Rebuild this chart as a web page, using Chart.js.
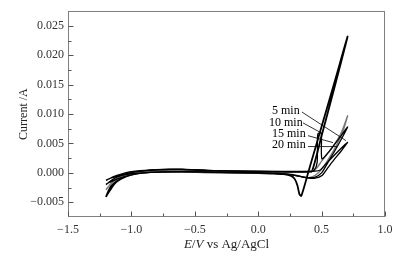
<!DOCTYPE html>
<html>
<head>
<meta charset="utf-8">
<script src="https://cdn.jsdelivr.net/npm/chart.js@4/dist/chart.umd.min.js"></script>
<style>
html, body { margin: 0; padding: 0; background: #fff; }
</style>
</head>
<body>
<canvas id="cv" width="399" height="257"></canvas>
<script>
// axis ticks
var xTicks = [-1.5, -1.0, -0.5, 0.0, 0.5, 1.0];
var yTicks = [-0.005, 0.000, 0.005, 0.010, 0.015, 0.020, 0.025];

// curve 1 (tallest, black)
var c1E = [-1.2, -1.18, -1.15, -1.1, -1.05, -1.0, -0.9, -0.8, -0.7, -0.6, -0.5, -0.3, -0.1, 0.1, 0.3, 0.4, 0.425, 0.5, 0.6, 0.705,
           0.6, 0.5, 0.4, 0.34, 0.325, 0.31, 0.29, 0.26, 0.2, 0.1, -0.1, -0.4, -0.7, -0.9, -1.0, -1.08, -1.13, -1.17, -1.2];
var c1I = [-0.0041, -0.0030, -0.0019, -0.0009, -0.0003, 0.0000, 0.0003, 0.0005, 0.0006, 0.0006, 0.0005, 0.0003, 0.0002, 0.0002, 0.0002, 0.0002, 0.0003, 0.0063, 0.0144, 0.0232,
           0.0153, 0.0079, 0.0005, -0.0039, -0.0036, -0.0022, -0.0011, -0.0005, -0.0002, -0.0001, 0.0000, 0.0001, 0.0002, 0.0001, -0.0003, -0.0010, -0.0018, -0.0030, -0.0040];

// curve 2 (grey)
var c2E = [-1.2, -1.17, -1.12, -1.05, -0.95, -0.8, -0.65, -0.5, -0.2, 0.1, 0.3, 0.42, 0.46, 0.5, 0.55, 0.6, 0.65, 0.68, 0.705,
           0.66, 0.6, 0.55, 0.5, 0.45, 0.4, 0.35, 0.3, 0.2, 0.0, -0.3, -0.6, -0.85, -0.98, -1.06, -1.12, -1.17, -1.2];
var c2I = [-0.0029, -0.0020, -0.0011, -0.0004, 0.0001, 0.0004, 0.0005, 0.0004, 0.0003, 0.0002, 0.0002, 0.0003, 0.0008, 0.0020, 0.0034, 0.0048, 0.0066, 0.0082, 0.0097,
           0.0066, 0.0040, 0.0022, 0.0006, -0.0004, -0.0008, -0.0007, -0.0004, -0.0001, 0.0000, 0.0001, 0.0002, 0.0001, -0.0002, -0.0006, -0.0012, -0.0021, -0.0028];

// curve 3 (black, with the jump near 0.47 V)
var c3E = [-1.2, -1.16, -1.1, -1.03, -0.95, -0.8, -0.6, -0.4, -0.1, 0.2, 0.4, 0.44, 0.465, 0.47, 0.497, 0.502, 0.55, 0.6, 0.65, 0.705,
           0.65, 0.6, 0.55, 0.5, 0.45, 0.4, 0.33, 0.25, 0.15, 0.0, -0.3, -0.6, -0.85, -0.97, -1.05, -1.12, -1.2];
var c3I = [-0.0020, -0.0013, -0.0006, -0.0001, 0.0002, 0.0005, 0.0006, 0.0004, 0.0003, 0.0002, 0.0002, 0.0004, 0.0018, 0.0066, 0.0068, 0.0024, 0.0034, 0.0048, 0.0062, 0.0078,
           0.0055, 0.0036, 0.0018, 0.0000, -0.0007, -0.0008, -0.0006, -0.0003, -0.0001, 0.0000, 0.0001, 0.0002, 0.0001, -0.0002, -0.0006, -0.0011, -0.0019];

// curve 4 (black, lowest at 0.7 V)
var c4E = [-1.2, -1.15, -1.08, -1.0, -0.85, -0.7, -0.5, -0.2, 0.1, 0.3, 0.45, 0.49, 0.52, 0.6, 0.65, 0.705,
           0.65, 0.6, 0.55, 0.5, 0.45, 0.4, 0.33, 0.25, 0.15, 0.0, -0.3, -0.6, -0.85, -0.98, -1.08, -1.15, -1.2];
var c4I = [-0.0013, -0.0007, -0.0002, 0.0002, 0.0005, 0.0006, 0.0005, 0.0003, 0.0002, 0.0002, 0.0003, 0.0005, 0.0012, 0.0030, 0.0041, 0.0052,
           0.0036, 0.0023, 0.0009, -0.0005, -0.0009, -0.0009, -0.0006, -0.0003, -0.0001, 0.0000, 0.0001, 0.0002, 0.0001, -0.0001, -0.0004, -0.0008, -0.0012];

// time labels
var noteText = ['5 min', '10 min', '15 min', '20 min'];

var notes = [
    {x: 0.109, y: 0.01052, from: [0.345, 0.01035], to: [0.692, 0.00549]},
    {x: 0.085, y: 0.00851, from: [0.353, 0.00851], to: [0.495, 0.00683]},
    {x: 0.109, y: 0.00666, from: [0.393, 0.00633], to: [0.590, 0.00515]},
    {x: 0.109, y: 0.00482, from: [0.393, 0.00448], to: [0.621, 0.00448]}
];

function pts(e, i) {
    return e.map(function(v, k) { return {x: v, y: i[k]}; });
}

function minus(s) { return s.replace('-', '\u2212'); }

var serif = 'Liberation Serif';

var decor = {
    id: 'decor',
    afterDraw: function(chart) {
        var c = chart.ctx, a = chart.chartArea;
        var xs = chart.scales.x, ys = chart.scales.y;
        c.save();

        // leader lines and labels
        c.strokeStyle = '#000';
        c.lineWidth = 0.8;
        c.fillStyle = '#000';
        c.font = '12px "' + serif + '"';
        c.textBaseline = 'middle';
        c.textAlign = 'left';
        notes.forEach(function(n, k) {
            c.beginPath();
            c.moveTo(xs.getPixelForValue(n.from[0]), ys.getPixelForValue(n.from[1]));
            c.lineTo(xs.getPixelForValue(n.to[0]), ys.getPixelForValue(n.to[1]));
            c.stroke();
            c.fillText(noteText[k], xs.getPixelForValue(n.x), ys.getPixelForValue(n.y));
        });

        // frame
        c.strokeStyle = '#808080';
        c.lineWidth = 1;
        c.strokeRect(Math.round(a.left) + 0.5, Math.round(a.top) + 0.5,
                     Math.round(a.right - a.left) - 1, Math.round(a.bottom - a.top) - 1);

        // inner ticks
        c.strokeStyle = '#555';
        c.beginPath();
        var bx = Math.round(a.bottom) - 0.5;
        for (var v = -1.5; v <= 1.0001; v += 0.25) {
            var px = Math.round(xs.getPixelForValue(v)) + 0.5;
            var major = Math.abs(v * 2 - Math.round(v * 2)) < 1e-6;
            c.moveTo(px, bx);
            c.lineTo(px, bx - (major ? 5 : 3));
        }
        var lx = Math.round(a.left) + 0.5;
        for (var w = -0.0075; w <= 0.0276; w += 0.0025) {
            var py = Math.round(ys.getPixelForValue(w)) + 0.5;
            if (py < a.top + 1 || py > a.bottom - 1) continue;
            var maj = Math.abs(w / 0.005 - Math.round(w / 0.005)) < 1e-6;
            c.moveTo(lx, py);
            c.lineTo(lx + (maj ? 5 : 3), py);
        }
        c.stroke();

        // axis titles
        c.fillStyle = '#222';
        c.textBaseline = 'middle';
        var parts = [['E', true], ['/', false], ['V', true], [' vs Ag/AgCl', false]];
        var total = 0;
        parts.forEach(function(p) {
            c.font = (p[1] ? 'italic ' : '') + '13px "' + serif + '"';
            total += c.measureText(p[0]).width;
        });
        var tx = (a.left + a.right) / 2 - total / 2;
        parts.forEach(function(p) {
            c.font = (p[1] ? 'italic ' : '') + '13px "' + serif + '"';
            c.textAlign = 'left';
            c.fillText(p[0], tx, 245);
            tx += c.measureText(p[0]).width;
        });

        c.translate(24, (a.top + a.bottom) / 2);
        c.rotate(-Math.PI / 2);
        c.font = '12px "' + serif + '"';
        c.textAlign = 'center';
        c.fillText('Current /A', 0, 0);
        c.restore();
    }
};

function line(data, color, width) {
    return {
        data: data,
        borderColor: color,
        borderWidth: width,
        pointRadius: 0,
        fill: false,
        showLine: true,
        tension: 0.25
    };
}

var ctx = document.getElementById('cv').getContext('2d');
var myChart = new Chart(ctx, {
    type: 'scatter',
    data: {
        datasets: [
            line(pts(c4E, c4I), '#000', 1.3),
            line(pts(c3E, c3I), '#000', 1.3),
            line(pts(c2E, c2I), '#7a7a7a', 1.4),
            line(pts(c1E, c1I), '#000', 1.8)
        ]
    },
    options: {
        responsive: false,
        animation: false,
        layout: {padding: {top: 9, right: 14, left: 0, bottom: 0}},
        plugins: {legend: {display: false}, tooltip: {enabled: false}},
        scales: {
            x: {
                type: 'linear',
                min: -1.5,
                max: 1.0,
                afterBuildTicks: function(s) { s.ticks = xTicks.map(function(v) { return {value: v}; }); },
                afterFit: function(s) { s.height = 40; },
                grid: {display: false, drawTicks: false},
                border: {display: false},
                ticks: {
                    padding: 6,
                    color: '#333',
                    font: {family: serif, size: 12},
                    maxRotation: 0,
                    callback: function(v) { return minus(v.toFixed(1)); }
                }
            },
            y: {
                type: 'linear',
                min: -0.0075,
                max: 0.0275,
                afterBuildTicks: function(s) { s.ticks = yTicks.map(function(v) { return {value: v}; }); },
                afterFit: function(s) { s.width = 68; },
                grid: {display: false, drawTicks: false},
                border: {display: false},
                ticks: {
                    padding: 4,
                    color: '#333',
                    font: {family: serif, size: 12},
                    callback: function(v) { return minus(v.toFixed(3)); }
                }
            }
        }
    },
    plugins: [decor]
});
</script>
</body>
</html>
